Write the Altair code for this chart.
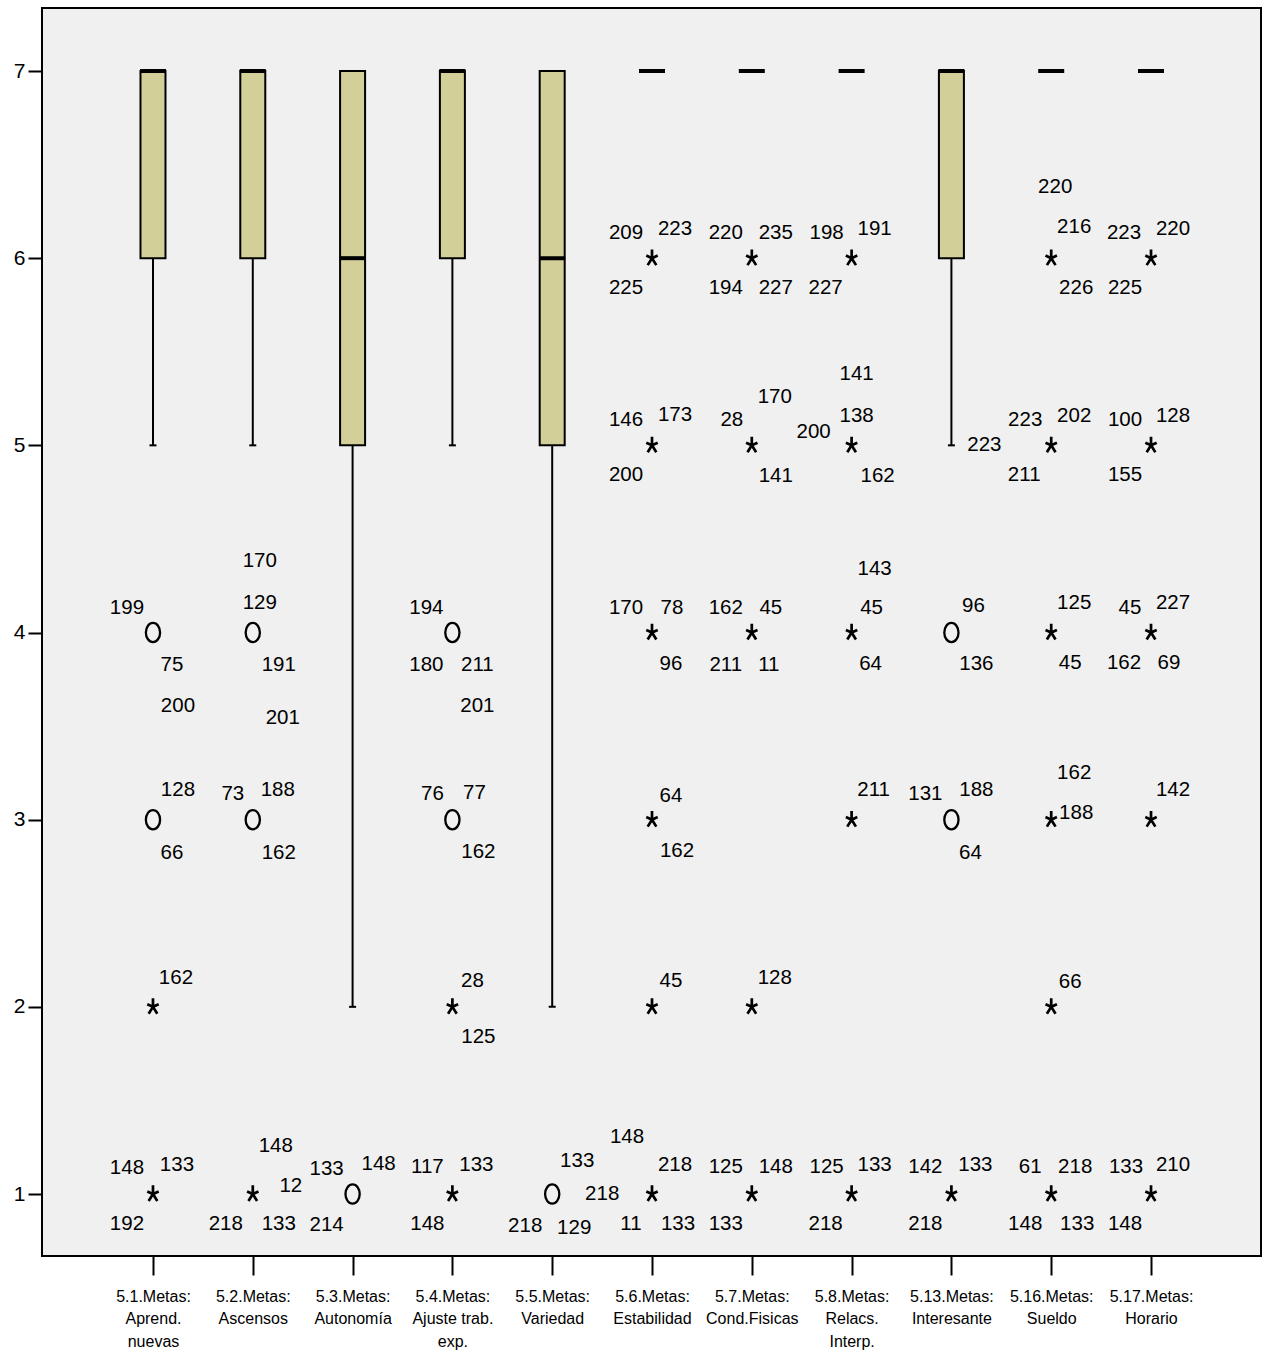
import json

import altair as alt
import pandas as pd

# ---------------------------------------------------------------- data
CATEGORIES = [
    "5.1.Metas:\nAprend.\nnuevas",
    "5.2.Metas:\nAscensos",
    "5.3.Metas:\nAutonomía",
    "5.4.Metas:\nAjuste trab.\nexp.",
    "5.5.Metas:\nVariedad",
    "5.6.Metas:\nEstabilidad",
    "5.7.Metas:\nCond.Fisicas",
    "5.8.Metas:\nRelacs.\nInterp.",
    "5.13.Metas:\nInteresante",
    "5.16.Metas:\nSueldo",
    "5.17.Metas:\nHorario",
]

Q1 = [6, 6, 5, 6, 5, 7, 7, 7, 6, 7, 7]
MEDIAN = [7, 7, 6, 7, 6, 7, 7, 7, 7, 7, 7]
Q3 = [7, 7, 7, 7, 7, 7, 7, 7, 7, 7, 7]
WHISKER_LOW = [5, 5, 2, 5, 2, 7, 7, 7, 5, 7, 7]

# outliers as (variable index, value)
MILD_OUTLIERS = [(0, 4), (0, 3), (1, 4), (1, 3), (2, 1), (3, 4), (3, 3),
                 (4, 1), (8, 4), (8, 3)]
EXTREME_OUTLIERS = [(0, 2), (0, 1), (1, 1), (3, 2), (3, 1),
                    (5, 6), (5, 5), (5, 4), (5, 3), (5, 2), (5, 1),
                    (6, 6), (6, 5), (6, 4), (6, 2), (6, 1),
                    (7, 6), (7, 5), (7, 4), (7, 3), (7, 1),
                    (8, 1),
                    (9, 6), (9, 5), (9, 4), (9, 3), (9, 2), (9, 1),
                    (10, 6), (10, 5), (10, 4), (10, 3), (10, 1)]

# case numbers shown next to outliers: (variable index, value, case)
CASE_LABELS = [
    (0, 4, "199"), (0, 4, "75"), (0, 4, "200"),
    (0, 3, "128"), (0, 3, "66"),
    (0, 2, "162"),
    (0, 1, "148"), (0, 1, "133"), (0, 1, "192"),
    (1, 4, "170"), (1, 4, "129"), (1, 4, "191"), (1, 4, "201"),
    (1, 3, "73"), (1, 3, "188"), (1, 3, "162"),
    (1, 1, "148"), (1, 1, "12"), (1, 1, "218"), (1, 1, "133"),
    (2, 1, "133"), (2, 1, "148"), (2, 1, "214"),
    (3, 4, "194"), (3, 4, "180"), (3, 4, "211"), (3, 4, "201"),
    (3, 3, "76"), (3, 3, "77"), (3, 3, "162"),
    (3, 2, "28"), (3, 2, "125"),
    (3, 1, "117"), (3, 1, "133"), (3, 1, "148"),
    (4, 1, "133"), (4, 1, "218"), (4, 1, "218"), (4, 1, "129"),
    (5, 6, "209"), (5, 6, "223"), (5, 6, "225"),
    (5, 5, "146"), (5, 5, "173"), (5, 5, "200"),
    (5, 4, "170"), (5, 4, "78"), (5, 4, "96"),
    (5, 3, "64"), (5, 3, "162"),
    (5, 2, "45"),
    (5, 1, "148"), (5, 1, "218"), (5, 1, "11"), (5, 1, "133"),
    (6, 6, "220"), (6, 6, "235"), (6, 6, "194"), (6, 6, "227"),
    (6, 5, "28"), (6, 5, "170"), (6, 5, "141"),
    (6, 4, "162"), (6, 4, "45"), (6, 4, "211"), (6, 4, "11"),
    (6, 2, "128"),
    (6, 1, "125"), (6, 1, "148"), (6, 1, "133"),
    (7, 6, "198"), (7, 6, "191"), (7, 6, "227"),
    (7, 5, "141"), (7, 5, "138"), (7, 5, "200"), (7, 5, "162"),
    (7, 4, "143"), (7, 4, "45"), (7, 4, "64"),
    (7, 3, "211"),
    (7, 1, "125"), (7, 1, "133"), (7, 1, "218"),
    (8, 5, "223"),
    (8, 4, "96"), (8, 4, "136"),
    (8, 3, "131"), (8, 3, "188"), (8, 3, "64"),
    (8, 1, "142"), (8, 1, "133"), (8, 1, "218"),
    (9, 6, "220"), (9, 6, "216"), (9, 6, "226"),
    (9, 5, "223"), (9, 5, "202"), (9, 5, "211"),
    (9, 4, "125"), (9, 4, "45"),
    (9, 3, "162"), (9, 3, "188"),
    (9, 2, "66"),
    (9, 1, "61"), (9, 1, "218"), (9, 1, "148"), (9, 1, "133"),
    (10, 6, "223"), (10, 6, "220"), (10, 6, "225"),
    (10, 5, "100"), (10, 5, "128"), (10, 5, "155"),
    (10, 4, "45"), (10, 4, "227"), (10, 4, "162"), (10, 4, "69"),
    (10, 3, "142"),
    (10, 1, "133"), (10, 1, "210"), (10, 1, "148"),
]

# pixel nudge of each case label from its point (same order as above)
LABEL_NUDGE = [
    (-26, -25), (19, 32), (25, 73),
    (25, -30), (19, 33),
    (23, -29),
    (-26, -26), (24, -29), (-26, 30),
    (7, -72), (7, -30), (26, 32), (30, 85),
    (-20, -26), (25, -30), (26, 33),
    (23, -48), (38, -8), (-27, 30), (26, 30),
    (-26, -25), (26, -30), (-26, 31),
    (-26, -25), (-26, 32), (25, 32), (25, 73),
    (-20, -26), (22, -27), (26, 32),
    (20, -26), (26, 30),
    (-25, -27), (24, -29), (-25, 30),
    (25, -33), (50, 0), (-27, 32), (22, 34),
    (-26, -25), (23, -29), (-26, 30),
    (-26, -25), (23, -30), (-26, 30),
    (-26, -25), (20, -25), (19, 31),
    (19, -24), (25, 31),
    (19, -26),
    (-25, -57), (23, -29), (-21, 30), (26, 30),
    (-26, -25), (24, -25), (-26, 30), (24, 30),
    (-20, -25), (23, -48), (24, 31),
    (-26, -25), (19, -25), (-26, 32), (17, 32),
    (23, -29),
    (-26, -27), (24, -27), (-26, 30),
    (-25, -25), (23, -29), (-26, 30),
    (5, -71), (5, -29), (-38, -13), (26, 31),
    (23, -64), (20, -25), (19, 31),
    (22, -30),
    (-25, -27), (23, -29), (-26, 30),
    (33, 0),
    (22, -27), (25, 31),
    (-26, -26), (25, -30), (19, 33),
    (-26, -27), (24, -29), (-26, 30),
    (4, -71), (23, -31), (25, 30),
    (-26, -25), (23, -29), (-27, 30),
    (23, -30), (19, 30),
    (23, -47), (25, -7),
    (19, -25),
    (-21, -27), (24, -27), (-26, 30), (26, 30),
    (-27, -25), (22, -29), (-26, 30),
    (-26, -25), (22, -29), (-26, 30),
    (-21, -25), (22, -30), (-27, 30), (18, 30),
    (22, -30),
    (-25, -27), (22, -29), (-26, 30),
]

# ---------------------------------------------------------------- layout
W, H = 1219, 1248
X_DOMAIN = [-1.112, 11.102]
Y_DOMAIN = [0.6688, 7.3366]
XPX = W / (X_DOMAIN[1] - X_DOMAIN[0])
YPX = H / (Y_DOMAIN[1] - Y_DOMAIN[0])

FONT = "Liberation Sans"
BOX_FILL = "#D3CF98"
BG = "#F0F0F0"

n = len(CATEGORIES)
stats = pd.DataFrame({
    "idx": list(range(n)),
    "q1": Q1, "median": MEDIAN, "q3": Q3, "wlo": WHISKER_LOW,
})
boxes = stats[stats.q1 < stats.q3]
whiskers = stats[stats.wlo < stats.q1]

mild = pd.DataFrame(MILD_OUTLIERS, columns=["idx", "value"])
extreme = pd.DataFrame(EXTREME_OUTLIERS, columns=["idx", "value"])
cases = pd.DataFrame(CASE_LABELS, columns=["idx", "value", "case"])
cases["dx"] = [d[0] for d in LABEL_NUDGE]
cases["dy"] = [d[1] for d in LABEL_NUDGE]

x_scale = alt.Scale(domain=X_DOMAIN, nice=False, zero=False, padding=0)
y_scale = alt.Scale(domain=Y_DOMAIN, nice=False, zero=False, padding=0)

label_lookup = json.dumps(CATEGORIES, ensure_ascii=False)
x_axis = alt.Axis(
    values=list(range(n)),
    labelExpr=f"split({label_lookup}[datum.value], '\\n')",
    title=None, grid=False, domain=False,
    tickSize=19, tickWidth=2, tickColor="black",
    labelFont=FONT, labelFontSize=16, labelColor="black",
    labelLineHeight=22.5, labelPadding=13,
    labelFlush=False, labelOverlap=False, labelBound=False,
)
y_axis = alt.Axis(
    values=[1, 2, 3, 4, 5, 6, 7],
    title=None, grid=False, domain=False,
    tickSize=14, tickWidth=2, tickColor="black",
    labelFont=FONT, labelFontSize=21, labelColor="black",
    labelPadding=3, labelFlush=False, labelOverlap=False,
)

X = alt.X("idx:Q", scale=x_scale, axis=x_axis)
Y = lambda f: alt.Y(f"{f}:Q", scale=y_scale, axis=y_axis)

whisker_lines = alt.Chart(whiskers).mark_rule(
    color="black", strokeWidth=2
).encode(x=X, y=Y("wlo"), y2="q1:Q")

whisker_caps = alt.Chart(whiskers).mark_tick(
    orient="horizontal", size=7, thickness=2, color="black", opacity=1
).encode(x=X, y=Y("wlo"))

box_rects = alt.Chart(boxes).mark_bar(
    width=25, fill=BOX_FILL, stroke="black", strokeWidth=2
).encode(x=X, y=Y("q1"), y2="q3:Q")

median_ticks = alt.Chart(stats).mark_tick(
    orient="horizontal", size=26, thickness=4, color="black", opacity=1
).encode(x=X, y=Y("median"))

ELLIPSE = "M0,-1A0.74,1 0 1,1 0,1A0.74,1 0 1,1 0,-1Z"
ASTERISK = ("M0,0L0,-1M0,0L0.66,-0.3M0,0L-0.66,-0.3"
            "M0,0L0.5,0.8M0,0L-0.5,0.8")

mild_pts = alt.Chart(mild).mark_point(
    shape=ELLIPSE, size=370, filled=False, stroke="black",
    strokeWidth=2.3, opacity=1
).encode(x=X, y=Y("value"))

extreme_pts = alt.Chart(extreme).mark_point(
    shape=ASTERISK, size=300, filled=False, stroke="black",
    strokeWidth=2.7, opacity=1
).encode(x=X, y=Y("value"))

case_text = alt.Chart(cases).transform_calculate(
    lx=f"datum.idx + datum.dx / {XPX}",
    ly=f"datum.value - datum.dy / {YPX}",
).mark_text(
    font=FONT, fontSize=20.5, color="black", align="center", baseline="middle"
).encode(
    x=alt.X("lx:Q", scale=x_scale, axis=x_axis),
    y=alt.Y("ly:Q", scale=y_scale, axis=y_axis),
    text="case:N",
)

chart = alt.layer(
    whisker_lines, whisker_caps, box_rects, median_ticks,
    mild_pts, extreme_pts, case_text,
).properties(
    width=W, height=H,
    autosize=alt.AutoSizeParams(type="none"),
    padding={"left": 42, "top": 8, "right": 11, "bottom": 96},
    background="white",
).configure_view(
    stroke="black", strokeWidth=2, fill=BG,
)

chart.save("out.html", embed_options={"renderer": "svg", "actions": False})
